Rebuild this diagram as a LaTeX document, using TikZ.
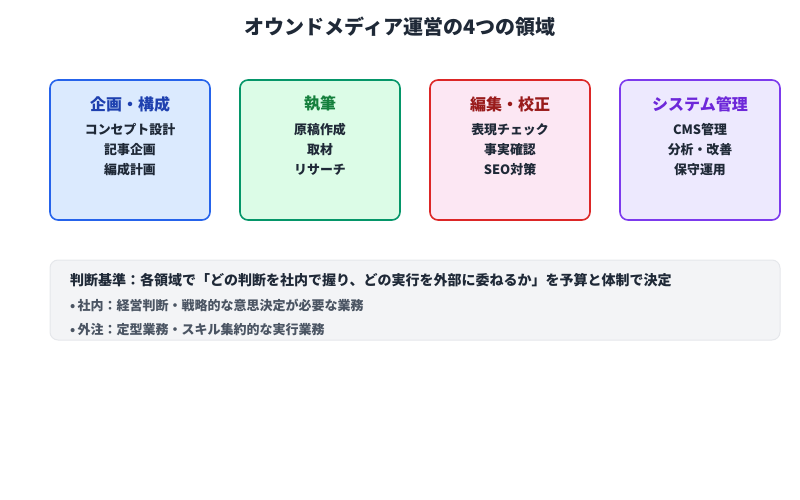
\documentclass[tikz,border=0pt]{standalone}
\usepackage{fontspec}
\setmainfont{Noto Sans CJK JP}
\definecolor{txt}{HTML}{1F2937}
\definecolor{sub}{HTML}{4B5563}
\definecolor{blueline}{HTML}{2563EB}
\definecolor{bluefill}{HTML}{DBEAFE}
\definecolor{bluehead}{HTML}{1E40AF}
\definecolor{greenline}{HTML}{059669}
\definecolor{greenfill}{HTML}{DCFCE7}
\definecolor{greenhead}{HTML}{15803D}
\definecolor{redline}{HTML}{DC2626}
\definecolor{redfill}{HTML}{FCE7F3}
\definecolor{redhead}{HTML}{991B1B}
\definecolor{purpleline}{HTML}{7C3AED}
\definecolor{purplefill}{HTML}{EDE9FE}
\definecolor{purplehead}{HTML}{6D28D9}
\definecolor{notefill}{HTML}{F3F4F6}
\definecolor{noteline}{HTML}{E5E7EB}
\tikzset{
  areabox/.style={draw=#1line,fill=#1fill,line width=1.6pt,rounded corners=8pt,
    minimum width=160pt,minimum height=140pt,inner sep=0pt},
  areahead/.style={text=#1head,font=\bfseries\fontsize{16}{19}\selectfont},
  areaitem/.style={text=txt,font=\bfseries\fontsize{12.9}{15}\selectfont},
}
\begin{document}
\begin{tikzpicture}[x=1pt,y=-1pt]
  \useasboundingbox (0,0) rectangle (800,500);
  \node[text=txt,font=\bfseries\fontsize{20}{24}\selectfont] (title) at (400,27) {オウンドメディア運営の4つの領域};
  % four areas
  \node[areabox=blue]   (plan)  at (130,150) {};
  \node[areabox=green]  (write) at (320,150) {};
  \node[areabox=red]    (edit)  at (510,150) {};
  \node[areabox=purple] (sys)   at (700,150) {};
  \node[areahead=blue]   (planhead)  at (130,104) {企画・構成};
  \node[areahead=green]  (writehead) at (320,104) {執筆};
  \node[areahead=red]    (edithead)  at (510,104) {編集・校正};
  \node[areahead=purple] (syshead)   at (700,104) {システム管理};
  \node[areaitem] (plana) at (130,130) {コンセプト設計};
  \node[areaitem] (planb) at (130,150) {記事企画};
  \node[areaitem] (planc) at (130,170) {編成計画};
  \node[areaitem] (writea) at (320,130) {原稿作成};
  \node[areaitem] (writeb) at (320,150) {取材};
  \node[areaitem] (writec) at (320,170) {リサーチ};
  \node[areaitem] (edita) at (510,130) {表現チェック};
  \node[areaitem] (editb) at (510,150) {事実確認};
  \node[areaitem] (editc) at (510,170) {SEO対策};
  \node[areaitem] (sysa) at (700,130) {CMS管理};
  \node[areaitem] (sysb) at (700,150) {分析・改善};
  \node[areaitem] (sysc) at (700,170) {保守運用};
  % criteria note
  \node[draw=noteline,fill=notefill,line width=1pt,rounded corners=8pt,
    minimum width=730pt,minimum height=80pt] (note) at (415,300) {};
  \node[anchor=west,text=txt,font=\bfseries\fontsize{14}{17}\selectfont,inner sep=0pt] (rule) at (70,280)
    {判断基準：各領域で「どの判断を社内で握り、どの実行を外部に委ねるか」を予算と体制で決定};
  \node[anchor=west,text=sub,font=\bfseries\fontsize{13}{15}\selectfont,inner sep=0pt] (inhouse) at (70,305)
    {•\,社内：経営判断・戦略的な意思決定が必要な業務};
  \node[anchor=west,text=sub,font=\bfseries\fontsize{13}{15}\selectfont,inner sep=0pt] (outsrc) at (70,330)
    {•\,外注：定型業務・スキル集約的な実行業務};
\end{tikzpicture}
\end{document}
